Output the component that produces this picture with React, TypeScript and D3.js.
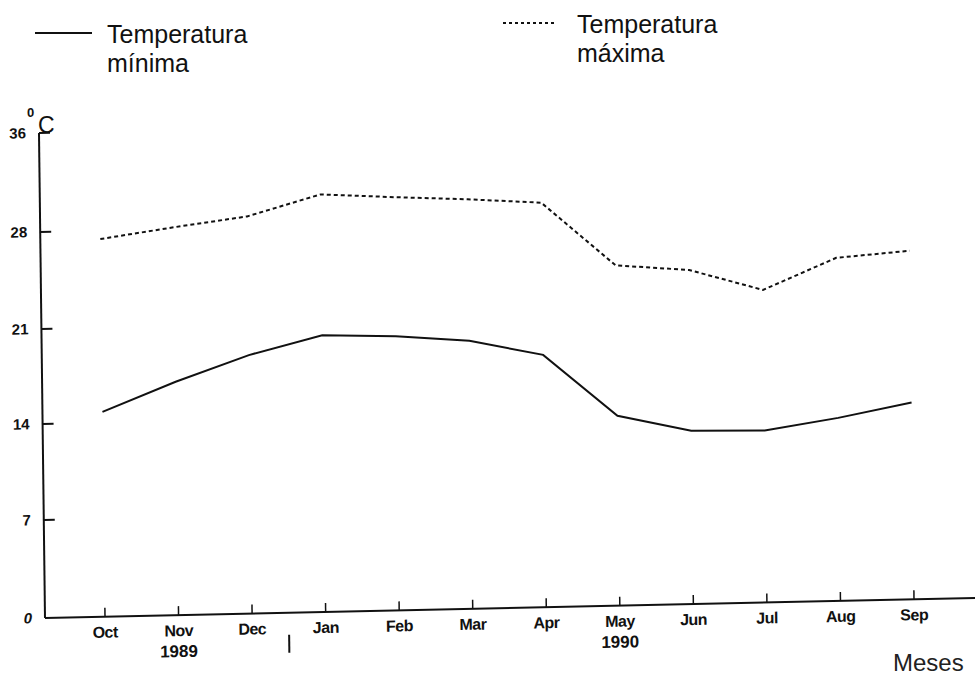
import React from "react";
import * as d3 from "d3";

const months = ["Oct", "Nov", "Dec", "Jan", "Feb", "Mar", "Apr", "May", "Jun", "Jul", "Aug", "Sep"];
const tempMin = [14.8, 16.9, 18.75, 20.1, 19.9, 19.45, 18.3, 13.7, 12.5, 12.4, 13.2, 14.2];
const tempMax = [27.4, 28.15, 28.9, 30.55, 30.2, 29.9, 29.5, 24.7, 24.25, 22.7, 24.9, 25.3];
const yTicks = [0, 7, 14, 21, 28, 36];
const yTickLabels = ["0", "7", "14", "21", "28", "36"];
const yearLabels = [
  { month: "Nov", label: "1989" },
  { month: "May", label: "1990" },
];

const FONT = "'Liberation Sans', Arial, sans-serif";

export default function App() {
  const x = d3.scalePoint<string>().domain(months).range([60, 869]);
  // hand-drawn axis: tick marks evenly spaced though the top one is labelled 36
  const y = d3.scaleLinear().domain(yTicks).range([0, -98, -194, -289, -386, -485]);

  const line = d3
    .line<number>()
    .x((_, i) => x(months[i]) as number)
    .y((d) => y(d));

  const sepX = ((x("Dec") as number) + (x("Jan") as number)) / 2;

  return (
    <svg
      width={977}
      height={675}
      style={{ position: "absolute", left: 0, top: 0, background: "#fff" }}
      fontFamily={FONT}
    >
      <rect width={977} height={675} fill="#fff" />
      {/* Legend */}
      <line x1={35} x2={92} y1={33} y2={33} stroke="#111" strokeWidth={2} />
      <text x={107} y={43} fontSize={25} fill="#111">Temperatura</text>
      <text x={107} y={72} fontSize={25} fill="#111">mínima</text>
      <line x1={503} x2={557} y1={23} y2={23} stroke="#111" strokeWidth={2} strokeDasharray="3,3" />
      <text x={577} y={33} fontSize={25} fill="#111">Temperatura</text>
      <text x={577} y={62} fontSize={25} fill="#111">máxima</text>

      {/* unit */}
      <text x={27} y={117} fontSize={13} fontWeight="bold" fill="#111">0</text>
      <text x={38} y={133} fontSize={23} fill="#111">C</text>

      {/* Meses */}
      <text x={893} y={671} fontSize={24} fill="#222">Meses</text>

      <g transform="matrix(1,-0.0215,0.0124,1,45,618)">
        {/* axes */}
        <line x1={0} x2={0} y1={y(36)} y2={0} stroke="#111" strokeWidth={2} />
        <line x1={0} x2={930} y1={0} y2={0} stroke="#111" strokeWidth={2} />
        {yTicks.map((t, i) => (
          <g key={t}>
            {t !== 0 && <line x1={0} x2={11} y1={y(t)} y2={y(t)} stroke="#111" strokeWidth={2} />}
            <text
              x={-13}
              y={y(t)}
              dy={5}
              textAnchor="end"
              fontSize={15}
              fontWeight="bold"
              fill="#111"
              fontStyle={t === 0 ? "italic" : "normal"}
            >
              {yTickLabels[i]}
            </text>
          </g>
        ))}
        {months.map((m) => (
          <g key={m}>
            <line x1={x(m)} x2={x(m)} y1={0} y2={-9} stroke="#111" strokeWidth={1.5} />
            <text
              x={x(m)}
              y={21}
              textAnchor="middle"
              fontSize={16}
              fontWeight="bold"
              letterSpacing={-0.5}
              fill="#111"
            >
              {m}
            </text>
          </g>
        ))}
        {yearLabels.map((d) => (
          <text
            key={d.label}
            x={x(d.month)}
            y={42}
            textAnchor="middle"
            fontSize={17}
            fontWeight="bold"
            fill="#111"
          >
            {d.label}
          </text>
        ))}
        <line x1={sepX} x2={sepX} y1={22} y2={40} stroke="#111" strokeWidth={2} />

        {/* series */}
        <path d={line(tempMin) ?? ""} fill="none" stroke="#111" strokeWidth={2} />
        <path d={line(tempMax) ?? ""} fill="none" stroke="#111" strokeWidth={2} strokeDasharray="4,3" />
      </g>
    </svg>
  );
}
